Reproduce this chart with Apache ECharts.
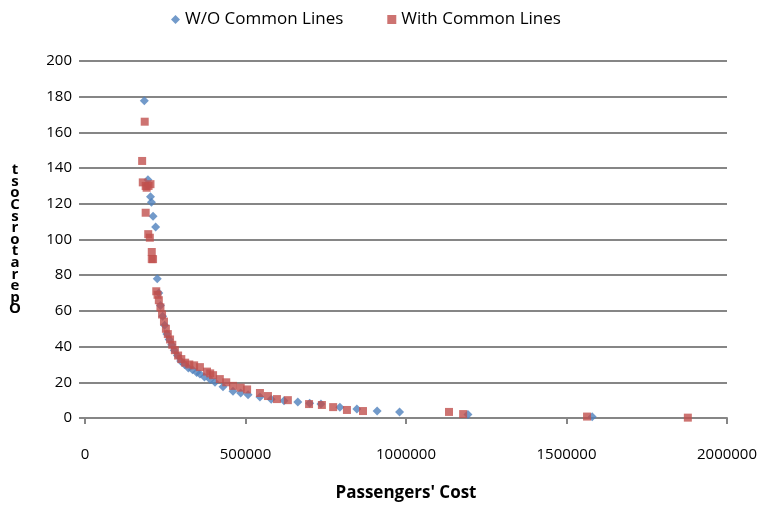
<!DOCTYPE html>
<html><head><meta charset="utf-8">
<script src="https://cdn.jsdelivr.net/npm/echarts@6/dist/echarts.min.js"></script>
<style>html,body{margin:0;padding:0;background:#fff}#c{width:766px;height:507px}</style>
</head><body><div id="c"></div>
<script>
const xTicks = [0, 500000, 1000000, 1500000, 2000000];
const yTicks = [0, 20, 40, 60, 80, 100, 120, 140, 160, 180, 200];
const woCost = [184800, 196000, 204000, 207000, 212000, 220000, 225000, 230000, 235000, 242000, 248000, 255000, 262000, 270000, 278000, 288000, 298000, 310000, 322000, 335000, 348000, 358000, 372000, 390000, 405000, 430000, 461000, 485000, 508000, 545000, 580000, 620000, 663000, 700000, 735000, 794000, 847000, 910000, 980000, 1193000, 1580000];
const woOps  = [177.7, 133.5, 124, 120.8, 113, 107, 78, 70, 63, 57, 52, 47, 44, 41, 38, 35, 32, 30, 28, 27, 25.5, 24.6, 23, 21.5, 20, 17.5, 15, 14, 13, 11.7, 10.5, 9.6, 9, 8.2, 7.8, 6, 5, 3.9, 3.4, 2, 0.7];
const wCost = [178000, 180000, 186000, 189000, 189000, 192000, 198000, 204000, 208000, 197000, 202000, 208000, 212000, 222000, 226000, 230000, 235000, 240000, 246000, 252000, 258000, 265000, 272000, 280000, 290000, 300000, 312000, 325000, 340000, 358000, 380000, 390000, 399000, 420000, 440000, 461000, 485000, 505000, 545000, 570000, 598000, 632000, 698000, 738000, 773000, 816000, 866000, 1134000, 1178000, 1564000, 1878000];
const wOps  = [144, 132, 166, 130, 115, 129, 130, 131, 93, 103, 101, 89, 89, 71, 69, 66, 62, 58, 54, 50, 47, 44, 41, 38, 35, 33, 31, 30, 29.5, 28.5, 26, 25, 24, 21.8, 20, 18, 17, 16, 14, 12.3, 10.6, 10, 7.8, 7.3, 6.1, 4.5, 3.9, 3.4, 2.2, 0.8, 0.2];

const font = 'Open Sans';
const chart = echarts.init(document.getElementById('c'));
chart.setOption({
  animation: false,
  textStyle: { fontFamily: font },
  legend: {
    top: 6, left: 166, itemGap: 44, itemWidth: 9, itemHeight: 9,
    textStyle: { fontSize: 17, color: '#000', fontFamily: font },
    data: [{ name: 'W/O Common Lines', icon: 'diamond' }, { name: 'With Common Lines', icon: 'rect' }]
  },
  grid: { left: 85, right: 39, top: 61, bottom: 88 },
  xAxis: {
    type: 'value', min: xTicks[0], max: xTicks[xTicks.length - 1], interval: 500000,
    name: "Passengers' Cost", nameLocation: 'middle', nameGap: 67,
    nameTextStyle: { fontSize: 17, fontWeight: 'bold', color: '#000', fontFamily: font },
    axisLine: { show: true, lineStyle: { color: '#868686', width: 2 } },
    axisTick: { show: true, inside: false, length: 6, lineStyle: { color: '#868686', width: 2 } },
    axisLabel: { fontSize: 15, color: '#000', margin: 29, formatter: v => String(v) },
    splitLine: { show: false }
  },
  yAxis: {
    type: 'value', min: yTicks[0], max: yTicks[yTicks.length - 1], interval: 20,
    name: 'tsoCsrotarepO'.split('').join('\n'), nameLocation: 'middle', nameRotate: 0, nameGap: 70,
    nameTextStyle: { fontSize: 15, fontWeight: 'bold', color: '#000', lineHeight: 11.6, align: 'center', fontFamily: font },
    axisLine: { show: false },
    axisTick: { show: true, inside: false, length: 6, lineStyle: { color: '#868686', width: 2 } },
    axisLabel: { fontSize: 15, color: '#000', margin: 13, formatter: v => String(v) },
    splitLine: { show: true, lineStyle: { color: '#868686', width: 2 } }
  },
  series: [
    { name: 'W/O Common Lines', type: 'scatter', symbol: 'diamond', symbolSize: 9,
      itemStyle: { color: '#4F81BD' }, data: woCost.map((v, i) => [v, woOps[i]]) },
    { name: 'With Common Lines', type: 'scatter', symbol: 'rect', symbolSize: 8,
      itemStyle: { color: '#C0504D' }, data: wCost.map((v, i) => [v, wOps[i]]) }
  ]
});
</script></body></html>
